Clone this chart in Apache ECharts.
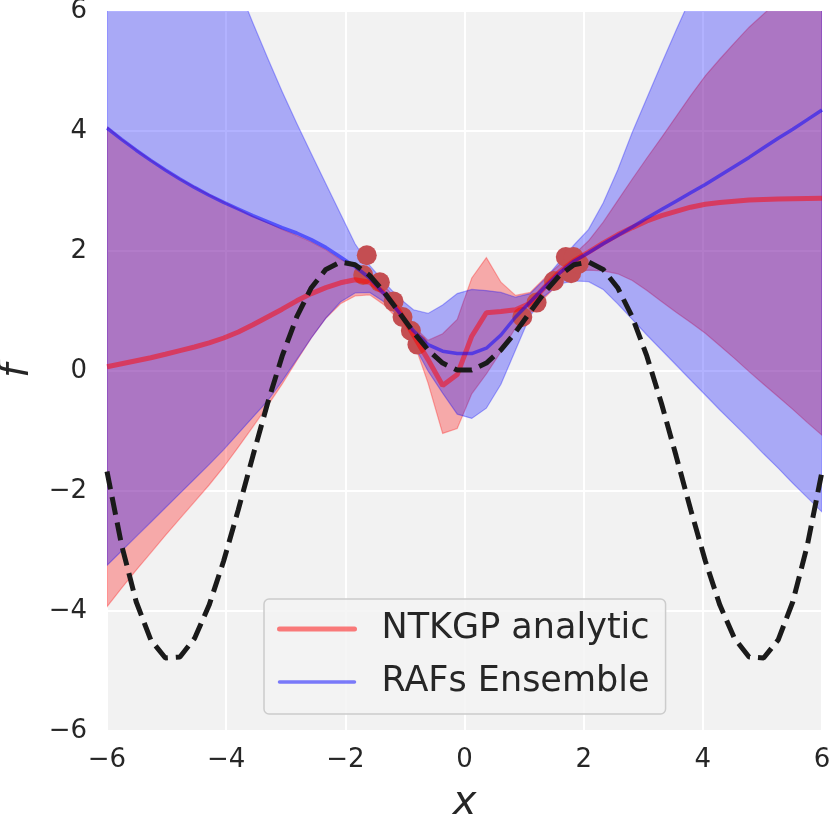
<!DOCTYPE html>
<html>
<head>
<meta charset="utf-8">
<script src="https://cdn.jsdelivr.net/npm/echarts@6/dist/echarts.min.js"></script>
<style>
  body { margin: 0; background: #ffffff; }
  #chart { width: 831px; height: 820px; }
</style>
</head>
<body>
<div id="chart"></div>
<script>
// x grid shared by all curves
var xs = [-6.000, -5.755, -5.510, -5.265, -5.020, -4.776, -4.531, -4.286, -4.041, -3.796,
  -3.551, -3.306, -3.061, -2.816, -2.571, -2.327, -2.082, -1.837, -1.592, -1.347,
  -1.102, -0.857, -0.612, -0.367, -0.122, 0.122, 0.367, 0.612, 0.857, 1.102,
  1.347, 1.592, 1.837, 2.082, 2.327, 2.571, 2.816, 3.061, 3.306, 3.551,
  3.796, 4.041, 4.286, 4.531, 4.776, 5.020, 5.265, 5.510, 5.755, 6.000];

// true function (black dashed)
var trueF = [-1.676, -2.900, -3.846, -4.481, -4.783, -4.766, -4.457, -3.902, -3.163, -2.311,
  -1.413, -0.541, 0.246, 0.901, 1.388, 1.693, 1.816, 1.772, 1.592, 1.314,
  0.983, 0.648, 0.352, 0.132, 0.015, 0.015, 0.132, 0.352, 0.648, 0.983,
  1.314, 1.592, 1.772, 1.816, 1.693, 1.388, 0.901, 0.246, -0.541, -1.413,
  -2.311, -3.163, -3.902, -4.457, -4.766, -4.783, -4.481, -3.846, -2.900, -1.676];

// NTKGP analytic: mean and band
var ntkMean = [0.07, 0.12, 0.17, 0.22, 0.28, 0.34, 0.40, 0.47, 0.55, 0.65,
  0.77, 0.90, 1.03, 1.17, 1.29, 1.39, 1.47, 1.52, 1.48, 1.30,
  1.01, 0.60, 0.19, -0.24, -0.06, 0.58, 0.97, 0.99, 1.02, 1.13,
  1.40, 1.65, 1.84, 1.98, 2.13, 2.27, 2.39, 2.50, 2.59, 2.66,
  2.73, 2.78, 2.81, 2.83, 2.85, 2.86, 2.865, 2.87, 2.875, 2.88];
var ntkLo = [-3.93, -3.62, -3.32, -3.03, -2.74, -2.46, -2.18, -1.90, -1.60, -1.27,
  -0.93, -0.58, -0.22, 0.17, 0.55, 0.88, 1.12, 1.25, 1.27, 1.10,
  0.85, 0.50, -0.20, -1.04, -0.96, -0.38, -0.05, 0.32, 0.72, 0.97,
  1.22, 1.47, 1.66, 1.68, 1.67, 1.62, 1.51, 1.34, 1.16, 0.98,
  0.81, 0.63, 0.42, 0.21, -0.01, -0.22, -0.43, -0.64, -0.86, -1.07];
var ntkHi = [4.07, 3.87, 3.69, 3.52, 3.36, 3.21, 3.07, 2.94, 2.82, 2.70,
  2.58, 2.47, 2.36, 2.26, 2.15, 2.02, 1.86, 1.76, 1.62, 1.42,
  1.15, 0.75, 0.51, 0.62, 0.86, 1.55, 1.89, 1.48, 1.26, 1.31,
  1.55, 1.77, 1.94, 2.17, 2.48, 2.84, 3.20, 3.55, 3.89, 4.24,
  4.59, 4.92, 5.20, 5.47, 5.73, 5.95, 6.17, 6.38, 6.58, 6.78];

// RAFs Ensemble: mean and band
var rafMean = [4.05, 3.86, 3.68, 3.51, 3.35, 3.20, 3.06, 2.93, 2.81, 2.70,
  2.59, 2.49, 2.39, 2.30, 2.19, 2.06, 1.90, 1.74, 1.55, 1.28,
  0.98, 0.67, 0.44, 0.33, 0.29, 0.29, 0.38, 0.60, 0.90, 1.15,
  1.40, 1.63, 1.83, 1.97, 2.12, 2.26, 2.40, 2.55, 2.69, 2.83,
  2.97, 3.11, 3.26, 3.41, 3.56, 3.72, 3.88, 4.03, 4.19, 4.35];
var rafLo = [-3.24, -3.00, -2.76, -2.52, -2.28, -2.04, -1.80, -1.56, -1.31, -1.04,
  -0.77, -0.50, -0.17, 0.19, 0.55, 0.88, 1.15, 1.30, 1.31, 1.15,
  0.90, 0.45, 0.00, -0.37, -0.72, -0.79, -0.62, -0.22, 0.35, 0.92,
  1.25, 1.45, 1.50, 1.49, 1.36, 1.12, 0.86, 0.60, 0.35, 0.10,
  -0.15, -0.40, -0.65, -0.89, -1.13, -1.38, -1.62, -1.87, -2.11, -2.35];
var rafHi = [11.8, 11.2, 10.6, 10.0, 9.4, 8.8, 8.2, 7.6, 7.0, 6.4,
  5.80, 5.22, 4.66, 4.13, 3.62, 3.12, 2.62, 2.12, 1.76, 1.48,
  1.22, 1.02, 0.96, 1.10, 1.29, 1.36, 1.34, 1.31, 1.23, 1.29,
  1.53, 1.82, 2.10, 2.36, 2.80, 3.35, 3.98, 4.55, 5.12, 5.68,
  6.22, 6.75, 7.30, 7.85, 8.40, 8.95, 9.50, 10.05, 10.60, 11.15];

// training points
var trainX = [-1.70, -1.64, -1.42, -1.19, -1.04, -0.90, -0.79, 0.97, 1.21, 1.50, 1.70, 1.79, 1.83, 1.92];
var trainY = [1.60, 1.93, 1.48, 1.16, 0.90, 0.67, 0.44, 0.90, 1.14, 1.50, 1.90, 1.63, 1.90, 1.79];

var FONT = 'DejaVu Sans';
var TEXT = '#262626';

function pairs(ys) {
  return xs.map(function (x, i) { return [x, ys[i]]; });
}

function fmtTick(v) {
  return String(v).replace('-', '\u2212');
}

function bandSeries(id, lo, hi, fill, edge) {
  return {
    type: 'custom',
    name: id,
    clip: true,
    silent: true,
    data: xs.map(function (x, i) { return [x, lo[i], hi[i]]; }),
    encode: { x: 0, y: [1, 2] },
    renderItem: function (params, api) {
      if (params.dataIndex !== 0) return;
      var top = [], bot = [];
      for (var i = 0; i < xs.length; i++) {
        top.push(api.coord([xs[i], hi[i]]));
        bot.push(api.coord([xs[i], lo[i]]));
      }
      var cs = params.coordSys;
      return {
        type: 'group',
        clipPath: { type: 'rect', shape: { x: cs.x, y: cs.y, width: cs.width, height: cs.height } },
        children: [{
          type: 'polygon',
          shape: { points: top.concat(bot.reverse()) },
          style: { fill: fill, stroke: edge, lineWidth: 1.2 }
        }]
      };
    }
  };
}

var myChart = echarts.init(document.getElementById('chart'));
var option = {
  animation: false,
  grid: {
    left: 107, top: 11, width: 715, height: 720,
    outerBoundsMode: 'none', containLabel: false,
    show: true, backgroundColor: '#f2f2f2', borderWidth: 0
  },
  legend: {
    data: [
      { name: 'NTKGP analytic', lineStyle: { width: 5, cap: 'round' } },
      { name: 'RAFs Ensemble', lineStyle: { width: 3.5, cap: 'round' } }
    ],
    orient: 'vertical',
    left: 264, top: 599,
    padding: [10, 16, 12, 13],
    itemWidth: 75, itemHeight: 14, itemGap: 13,
    itemStyle: { opacity: 0 },
    backgroundColor: 'rgba(242,242,242,0.8)',
    borderColor: '#cccccc', borderWidth: 1.5, borderRadius: 5,
    selectedMode: false,
    textStyle: { fontFamily: FONT, fontSize: 35, lineHeight: 40, color: TEXT, padding: [0, 0, 0, 22] }
  },
  xAxis: {
    type: 'value', min: -6, max: 6, interval: 2,
    name: 'x', nameLocation: 'middle', nameGap: 53,
    nameTextStyle: { fontFamily: FONT, fontSize: 40, fontStyle: 'italic', color: TEXT, lineHeight: 40 },
    axisLine: { show: false }, axisTick: { show: false },
    axisLabel: { fontFamily: FONT, fontSize: 26, lineHeight: 26, color: TEXT, margin: 16, formatter: fmtTick },
    splitLine: { lineStyle: { color: '#ffffff', width: 2 } }
  },
  yAxis: {
    type: 'value', min: -6, max: 6, interval: 2,
    name: 'f', nameLocation: 'middle', nameGap: 66, nameRotate: 90,
    nameTextStyle: { fontFamily: FONT, fontSize: 40, fontStyle: 'italic', color: TEXT, lineHeight: 40 },
    axisLine: { show: false }, axisTick: { show: false },
    axisLabel: { fontFamily: FONT, fontSize: 26, lineHeight: 26, color: TEXT, margin: 20, formatter: fmtTick },
    splitLine: { lineStyle: { color: '#ffffff', width: 2 } }
  },
  series: [
    bandSeries('ntk band', ntkLo, ntkHi, 'rgba(255,0,0,0.3)', 'rgba(255,0,0,0.3)'),
    bandSeries('raf band', rafLo, rafHi, 'rgba(0,0,255,0.3)', 'rgba(0,0,255,0.3)'),
    {
      type: 'scatter', name: 'data',
      data: trainX.map(function (x, i) { return [x, trainY[i]]; }),
      symbolSize: 20,
      itemStyle: { color: '#c44e52', opacity: 1 }
    },
    {
      type: 'line', name: 'NTKGP analytic',
      data: pairs(ntkMean), symbol: 'none',
      itemStyle: { color: 'rgba(255,0,0,0.5)' },
      lineStyle: { color: 'rgba(255,0,0,0.5)', width: 5 }
    },
    {
      type: 'line', name: 'RAFs Ensemble',
      data: pairs(rafMean), symbol: 'none',
      itemStyle: { color: 'rgba(0,0,255,0.5)' },
      lineStyle: { color: 'rgba(0,0,255,0.5)', width: 3.5 }
    },
    {
      type: 'line', name: 'true',
      data: pairs(trueF), symbol: 'none',
      lineStyle: { color: '#1a1a1a', width: 5, type: [18, 8] }
    }
  ]
};
myChart.setOption(option);
</script>
</body>
</html>
